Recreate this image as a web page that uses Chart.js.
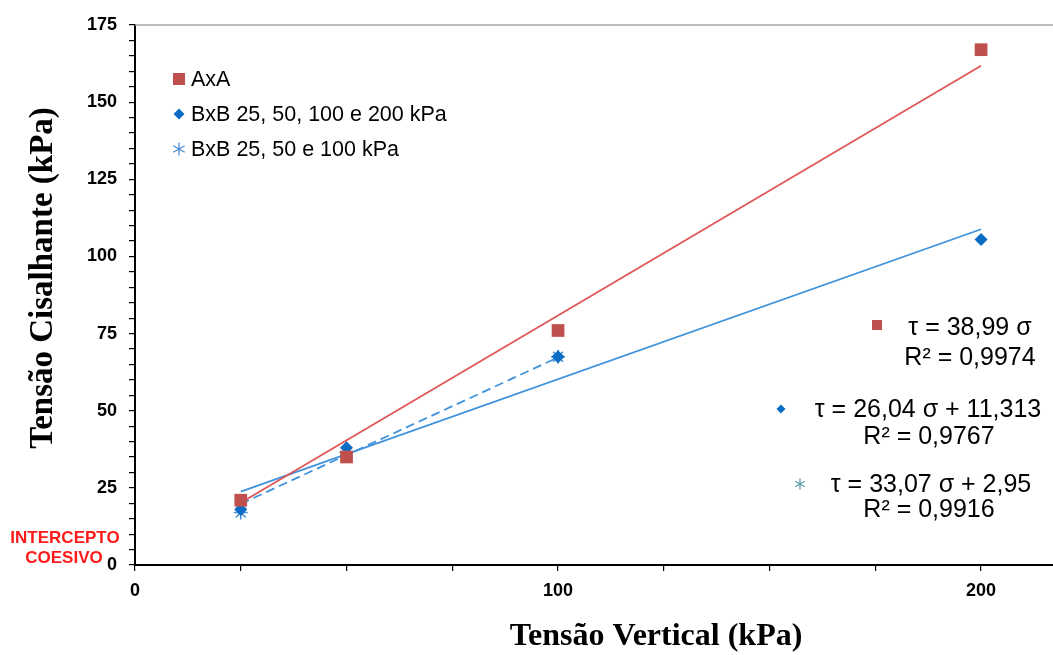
<!DOCTYPE html>
<html>
<head>
<meta charset="utf-8">
<script src="https://cdn.jsdelivr.net/npm/chart.js@4.4.1/dist/chart.umd.min.js"></script>
<style>
  html, body { margin: 0; padding: 0; background: #fff; }
  canvas { display: block; }
</style>
</head>
<body>
<canvas id="chart" width="1053" height="655"></canvas>
<script>
// measured points
const tensaoVertical = [25, 50, 100, 200];
const axaShear = [21, 35, 76, 167];
const bxb4Shear = [18, 38, 67.5, 105.5];
const bxb3Vertical = [25, 50, 100];
const bxb3Shear = [17, 36.5, 67.5];

// trend line end points
const trendVertical = [25, 200];
const trendAxA = [20.2, 161.8];
const trendBxB4 = [23.8, 108.8];
const trendBxB3Vertical = [25, 100];
const trendBxB3 = [19.8, 67.3];

const seriesNames = ["AxA", "BxB 25, 50, 100 e 200 kPa", "BxB 25, 50 e 100 kPa"];
const equations = [
    ["τ = 38,99 σ", "R² = 0,9974"],
    ["τ = 26,04 σ + 11,313", "R² = 0,9767"],
    ["τ = 33,07 σ + 2,95", "R² = 0,9916"]
];

const xMajorTicks = [0, 100, 200];
const xTickValues = [0, 25, 50, 75, 100, 125, 150, 175, 200];
const yTickValues = [];
for (let v = 0; v <= 175; v += 5) yTickValues.push(v);

const RED = "#C0504D";
const RED_LINE = "#E05656";
const BLUE = "#0A6CC4";
const BLUE_LINE = "#3F92DC";
const STAR = "#4A8FD6";

function pts(xs, ys) {
    return xs.map((x, i) => ({ x: x, y: ys[i] }));
}

function drawMarker(ctx, kind, x, y, s) {
    ctx.save();
    if (kind === "square") {
        ctx.fillStyle = RED;
        ctx.fillRect(x - s, y - s, 2 * s, 2 * s);
    } else if (kind === "diamond") {
        ctx.fillStyle = BLUE;
        ctx.beginPath();
        ctx.moveTo(x, y - s); ctx.lineTo(x + s, y); ctx.lineTo(x, y + s); ctx.lineTo(x - s, y);
        ctx.closePath();
        ctx.fill();
    } else {
        ctx.strokeStyle = kind;
        ctx.lineWidth = 1.3;
        ctx.beginPath();
        ctx.moveTo(x, y - s); ctx.lineTo(x, y + s);
        ctx.moveTo(x - s * 0.87, y - s * 0.5); ctx.lineTo(x + s * 0.87, y + s * 0.5);
        ctx.moveTo(x - s * 0.87, y + s * 0.5); ctx.lineTo(x + s * 0.87, y - s * 0.5);
        ctx.stroke();
    }
    ctx.restore();
}

const extras = {
    id: "extras",
    beforeDatasetsDraw(chart) {
        const ctx = chart.ctx;
        const a = chart.chartArea;
        ctx.save();
        ctx.strokeStyle = "#A6A6A6";
        ctx.lineWidth = 1.5;
        ctx.beginPath();
        ctx.moveTo(a.left, a.top);
        ctx.lineTo(chart.width, a.top);
        ctx.stroke();
        ctx.restore();
    },
    afterDraw(chart) {
        const ctx = chart.ctx;
        ctx.save();

        // axis titles
        ctx.fillStyle = "#000";
        ctx.textAlign = "center";
        ctx.textBaseline = "middle";
        ctx.font = "bold 32px 'Liberation Serif', 'Times New Roman', serif";
        ctx.fillText("Tensão Vertical (kPa)", 656, 637);
        ctx.save();
        ctx.translate(43, 278);
        ctx.rotate(-Math.PI / 2);
        ctx.font = "bold 33px 'Liberation Serif', 'Times New Roman', serif";
        ctx.fillText("Tensão Cisalhante (kPa)", 0, 0);
        ctx.restore();

        // legend
        ctx.font = "21.5px 'Liberation Sans', Arial, sans-serif";
        ctx.textAlign = "left";
        const legendY = [79, 114, 149];
        const legendKinds = ["square", "diamond", STAR];
        const legendSizes = [6, 5.5, 6.5];
        seriesNames.forEach((name, i) => {
            drawMarker(ctx, legendKinds[i], 179, legendY[i], legendSizes[i]);
            ctx.fillStyle = "#000";
            ctx.fillText(name, 191, legendY[i] + 1);
        });

        // equations
        ctx.font = "25px 'Liberation Sans', Arial, sans-serif";
        ctx.textAlign = "center";
        const eqX = [[970, 970], [928, 929], [931, 929]];
        const eqY = [[328, 358], [410, 437], [485, 510]];
        const eqMarkers = [[877, 325, "square", 5], [781, 409, "diamond", 4.5], [800, 484, "#5E9EA8", 5.5]];
        equations.forEach((lines, i) => {
            ctx.fillStyle = "#000";
            ctx.fillText(lines[0], eqX[i][0], eqY[i][0]);
            ctx.fillText(lines[1], eqX[i][1], eqY[i][1]);
            const m = eqMarkers[i];
            drawMarker(ctx, m[2], m[0], m[1], m[3]);
        });

        // annotation
        ctx.fillStyle = "#FF1A1A";
        ctx.font = "bold 17px 'Liberation Sans', Arial, sans-serif";
        ctx.fillText("INTERCEPTO", 65, 538);
        ctx.fillText("COESIVO", 64, 558);
        ctx.restore();
    }
};

const axisFont = { family: "'Liberation Sans', Arial, sans-serif", size: 18, weight: "bold" };

const chart = new Chart(document.getElementById("chart").getContext("2d"), {
    type: "scatter",
    data: {
        datasets: [
            {
                label: seriesNames[0],
                data: pts(tensaoVertical, axaShear),
                pointStyle: "rect",
                pointRadius: 9,
                backgroundColor: RED,
                borderColor: RED,
                borderWidth: 0
            },
            {
                label: seriesNames[1],
                data: pts(tensaoVertical, bxb4Shear),
                pointStyle: "rectRot",
                pointRadius: 6.5,
                backgroundColor: BLUE,
                borderColor: BLUE,
                borderWidth: 0
            },
            {
                label: seriesNames[2],
                data: pts(bxb3Vertical, bxb3Shear),
                pointStyle: "star",
                pointRadius: 7,
                backgroundColor: STAR,
                borderColor: STAR,
                borderWidth: 1.5
            },
            {
                label: "trend AxA",
                data: pts(trendVertical, trendAxA),
                showLine: true,
                pointRadius: 0,
                borderColor: RED_LINE,
                borderWidth: 1.8
            },
            {
                label: "trend BxB 4",
                data: pts(trendVertical, trendBxB4),
                showLine: true,
                pointRadius: 0,
                borderColor: BLUE_LINE,
                borderWidth: 1.8
            },
            {
                label: "trend BxB 3",
                data: pts(trendBxB3Vertical, trendBxB3),
                showLine: true,
                pointRadius: 0,
                borderColor: BLUE_LINE,
                borderWidth: 1.8,
                borderDash: [9, 5]
            }
        ]
    },
    options: {
        responsive: false,
        animation: false,
        layout: { autoPadding: false, padding: { top: 25, right: 0, left: 0, bottom: 0 } },
        plugins: {
            legend: { display: false },
            tooltip: { enabled: false }
        },
        scales: {
            x: {
                type: "linear",
                min: 0,
                max: 217,
                afterBuildTicks: (scale) => {
                    scale.ticks = xTickValues.map((v) => ({ value: v }));
                },
                afterFit: (scale) => {
                    scale.height = 90;
                    scale.paddingLeft = 0;
                    scale.paddingRight = 0;
                },
                ticks: {
                    autoSkip: false,
                    maxRotation: 0,
                    padding: 9,
                    color: "#000",
                    font: axisFont,
                    callback: (v) => xMajorTicks.includes(v) ? String(v) : ""
                },
                grid: {
                    drawOnChartArea: false,
                    drawTicks: true,
                    tickLength: 6,
                    color: "#000",
                    lineWidth: 1.2
                },
                border: { display: true, color: "#000", width: 2 }
            },
            y: {
                type: "linear",
                min: 0,
                max: 175,
                afterBuildTicks: (scale) => {
                    scale.ticks = yTickValues.map((v) => ({ value: v }));
                },
                afterFit: (scale) => { scale.width = 135; },
                ticks: {
                    autoSkip: false,
                    padding: 12,
                    color: "#000",
                    font: axisFont,
                    callback: (v) => v % 25 === 0 ? String(v) : ""
                },
                grid: {
                    drawOnChartArea: false,
                    drawTicks: true,
                    tickLength: 6,
                    color: "#000",
                    lineWidth: 1.2
                },
                border: { display: true, color: "#000", width: 2 }
            }
        }
    },
    plugins: [extras]
});
</script>
</body>
</html>
